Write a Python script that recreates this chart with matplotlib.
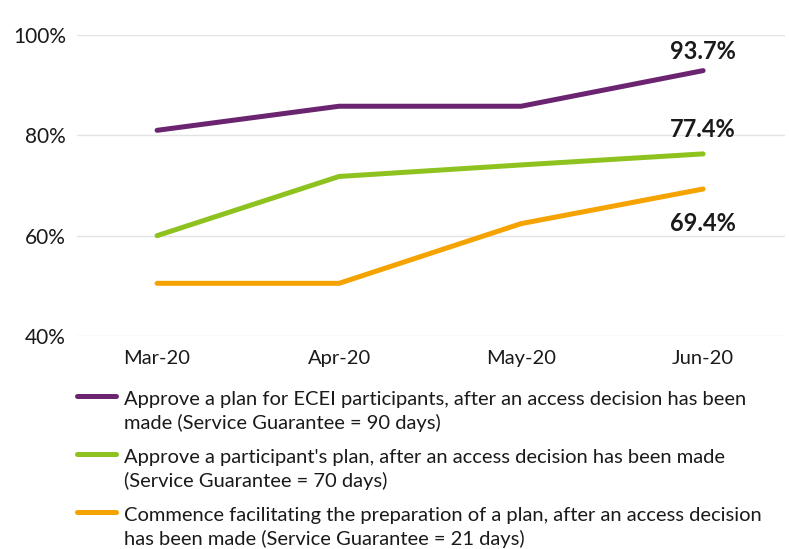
import matplotlib
matplotlib.use("Agg")
import matplotlib.pyplot as plt
from matplotlib.lines import Line2D

months = ["Mar-20", "Apr-20", "May-20", "Jun-20"]
ecei = [81.0, 85.8, 85.8, 92.9]
participant = [60.0, 71.8, 74.1, 76.3]
commence = [50.5, 50.5, 62.4, 69.3]
end_labels = ["93.7%", "77.4%", "69.4%"]
series_names = [
    "Approve a plan for ECEI participants, after an access decision has been\nmade (Service Guarantee = 90 days)",
    "Approve a participant's plan, after an access decision has been made\n(Service Guarantee = 70 days)",
    "Commence facilitating the preparation of a plan, after an access decision\nhas been made (Service Guarantee = 21 days)",
]
yticks = [40, 60, 80, 100]

colors = ["#6b2470", "#8ec21f", "#f5a300"]
plt.rcParams['font.family'] = ['Lato', 'DejaVu Sans']
txt = "#1a1a1a"

fig = plt.figure(figsize=(7.89, 5.49), dpi=100)
ax = fig.add_axes([77/789, 1-336/549, (785-77)/789, (336-35)/549])
x = list(range(len(months)))
for vals, c in zip([ecei, participant, commence], colors):
    ax.plot(x, vals, color=c, lw=3.6, solid_capstyle='round', clip_on=False, zorder=3)

ax.set_xlim(-0.44, 3.45)
ax.set_ylim(40, 100)
ax.set_yticks(yticks)
ax.set_yticklabels([f"{v}%" for v in yticks], fontsize=15, color=txt)
ax.set_xticks(x)
ax.set_xticklabels(months, fontsize=14.5, color=txt)
ax.tick_params(axis='both', length=0)
ax.tick_params(axis='y', pad=8)
ax.tick_params(axis='x', pad=10)
ax.grid(axis='y', color='#e3e3e3', lw=1)
ax.set_axisbelow(True)
for s in ax.spines.values():
    s.set_visible(False)

# end value labels
label_y = [96.8, 81.1, 62.5]
for lab, yy in zip(end_labels, label_y):
    ax.text(3, yy, lab, ha='center', va='center', fontsize=17, fontweight='bold', color=txt)

# legend (manual)
handle_y = [396, 454, 512]
for name, c, ypix in zip(series_names, colors, handle_y):
    yf = 1 - ypix/549
    fig.add_artist(Line2D([77/789, 116/789], [yf, yf], color=c, lw=3.6,
                          solid_capstyle='round', transform=fig.transFigure))
    for i, line in enumerate(name.split("\n")):
        base = ypix + 9 + 24*i
        fig.text(124/789, 1 - base/549, line, fontsize=14.5, color=txt,
                 va='baseline', ha='left')

fig.savefig("out.png", dpi=100)
